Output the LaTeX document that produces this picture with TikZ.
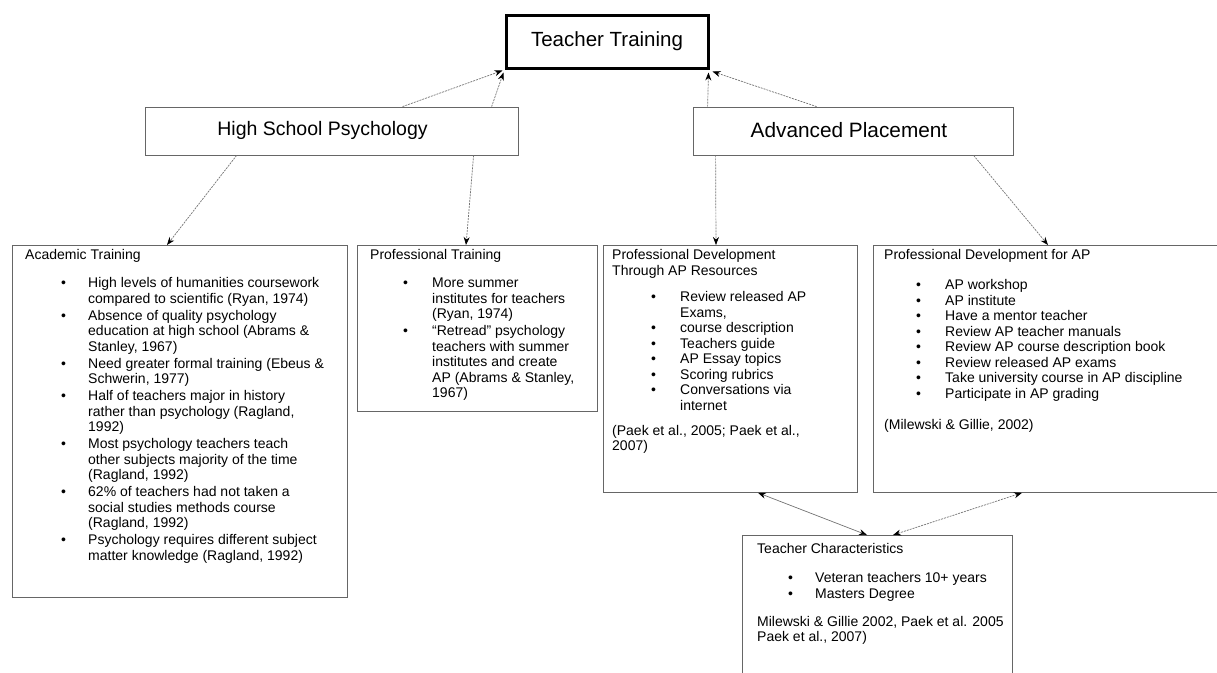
\documentclass[tikz,border=0pt]{standalone}
\usepackage{fontspec}
\setmainfont{Liberation Sans}
\usetikzlibrary{arrows.meta}
\newlength\bo \newlength\bi
\newcommand{\bul}[1]{\par\hangindent=\bi\hangafter=1\noindent\makebox[\bi][l]{\hspace{\bo}•}#1}
\newcommand{\gap}[1]{\par\vspace*{#1}}
\newcommand{\nl}{\newline}
\begin{document}
\begin{tikzpicture}[x=1pt,y=-1pt,
  box/.style={draw=black!60, line width=0.8pt, rectangle, inner sep=0pt, anchor=north west},
  head/.style={draw=black!60, line width=0.8pt, rectangle, inner sep=0pt},
  hl/.style={inner sep=0pt, font=\fontsize{20}{22}\selectfont},
  txt/.style={inner sep=0pt, anchor=base west},
  con/.style={draw=black!55, line width=0.7pt, dash pattern=on 2pt off 1pt, -{Stealth[length=8pt,width=6pt,black]}},
  dcon/.style={draw=black!55, line width=0.7pt, {Stealth[length=8pt,width=6pt,black]}-{Stealth[length=8pt,width=6pt,black]}},
]
\useasboundingbox (0,0) rectangle (1217,672);
% top
\node[draw=black, line width=3pt, minimum width=202pt, minimum height=53pt, inner sep=0pt, font=\fontsize{20.5}{22}\selectfont] (tt) at (607,41.5) {Teacher Training};
\node[head, minimum width=373pt, minimum height=48pt] (hsp) at (331.5,131) {};
\node[hl, font=\fontsize{19.5}{22}\selectfont] (hspl) at (322.5,130) {High School Psychology};
\node[head, minimum width=320pt, minimum height=48pt] (ap) at (853,131) {};
\node[hl, font=\fontsize{20.8}{22}\selectfont] (apl) at (849,130) {Advanced Placement};
% lower boxes
\node[box, minimum width=335pt, minimum height=352pt] (acad) at (12,245) {};
\node[box, minimum width=240pt, minimum height=166pt] (prof) at (357,245) {};
\node[box, minimum width=254pt, minimum height=247pt] (pd) at (603,245) {};
\node[box, minimum width=360pt, minimum height=247pt] (pdap) at (873,245) {};
\node[box, minimum width=270pt, minimum height=160pt] (tc) at (742,535) {};
% texts
\node[txt] (acadtxt) at (25,259.5) {\parbox[t]{330pt}{\raggedright\fontsize{14}{15.5}\selectfont
\setlength\bo{36pt}\setlength\bi{63pt}%
Academic Training\gap{11pt}\setlength\parskip{1.5pt}%
\bul{High levels of humanities coursework\nl compared to scientific (Ryan, 1974)}
\bul{Absence of quality psychology\nl education at high school (Abrams \&\nl Stanley, 1967)}
\bul{Need greater formal training (Ebeus \&\nl Schwerin, 1977)}
\bul{Half of teachers major in history\nl rather than psychology (Ragland,\nl 1992)}
\bul{Most psychology teachers teach\nl other subjects majority of the time\nl (Ragland, 1992)}
\bul{62\% of teachers had not taken a\nl social studies methods course\nl (Ragland, 1992)}
\bul{Psychology requires different subject\nl matter knowledge (Ragland, 1992)}}};
\node[txt] (proftxt) at (370,259.5) {\parbox[t]{230pt}{\raggedright\fontsize{14}{15.5}\selectfont
\setlength\bo{33pt}\setlength\bi{62pt}%
Professional Training\gap{11pt}\setlength\parskip{1.5pt}%
\bul{More summer\nl institutes for teachers\nl (Ryan, 1974)}
\bul{“Retread” psychology\nl teachers with summer\nl institutes and create\nl AP (Abrams \& Stanley,\nl 1967)}}};
\node[txt] (pdtxt) at (612,259.5) {\parbox[t]{245pt}{\raggedright\fontsize{14}{15.5}\selectfont
\setlength\bo{39pt}\setlength\bi{68pt}%
Professional Development\nl Through AP Resources\gap{11pt}
\bul{Review released AP\nl Exams,}
\bul{course description}
\bul{Teachers guide}
\bul{AP Essay topics}
\bul{Scoring rubrics}
\bul{Conversations via\nl internet}\gap{9.5pt}
\noindent(Paek et al., 2005; Paek et al.,\nl 2007)}};
\node[txt] (pdaptxt) at (884,259.5) {\parbox[t]{330pt}{\raggedright\fontsize{14}{15.5}\selectfont
\setlength\bo{32pt}\setlength\bi{61pt}%
Professional Development for AP\gap{14.5pt}
\bul{AP workshop}
\bul{AP institute}
\bul{Have a mentor teacher}
\bul{Review AP teacher manuals}
\bul{Review AP course description book}
\bul{Review released AP exams}
\bul{Take university course in AP discipline}
\bul{Participate in AP grading}\gap{16pt}
\noindent(Milewski \& Gillie, 2002)}};
\node[txt] (tctxt) at (757,553.5) {\parbox[t]{255pt}{\raggedright\fontsize{14}{15.5}\selectfont
\setlength\bo{31pt}\setlength\bi{58pt}%
Teacher Characteristics\gap{13.5pt}
\bul{Veteran teachers 10+ years}
\bul{Masters Degree}\gap{12.5pt}
\noindent Milewski \& Gillie 2002, Paek et al. 2005\nl Paek et al., 2007)}};
% connectors
\draw[con] ([xshift=258pt]hsp.north west) -- ([xshift=-2pt,yshift=-1pt]tt.south west);
\draw[con] ([xshift=347pt]hsp.north west) -- ([xshift=-1pt,yshift=-3pt]tt.south west);
\draw[con] ([xshift=15pt]ap.north west) -- ([xshift=-1pt,yshift=-3pt]tt.south east);
\draw[con] ([xshift=124pt]ap.north west) -- ([xshift=3pt,yshift=-2pt]tt.south east);
\draw[con] ([xshift=92pt]hsp.south west) -- ([xshift=155pt]acad.north west);
\draw[con] ([xshift=329pt]hsp.south west) -- ([xshift=109pt]prof.north west);
\draw[con] ([xshift=23pt]ap.south west) -- ([xshift=113pt]pd.north west);
\draw[con] ([xshift=281pt]ap.south west) -- ([xshift=175pt]pdap.north west);
\draw[dcon] ([xshift=155pt]pd.south west) -- ([xshift=125pt]tc.north west);
\draw[dcon, dash pattern=on 2pt off 1pt] ([xshift=149pt]pdap.south west) -- ([xshift=151pt]tc.north west);
\end{tikzpicture}
\end{document}
